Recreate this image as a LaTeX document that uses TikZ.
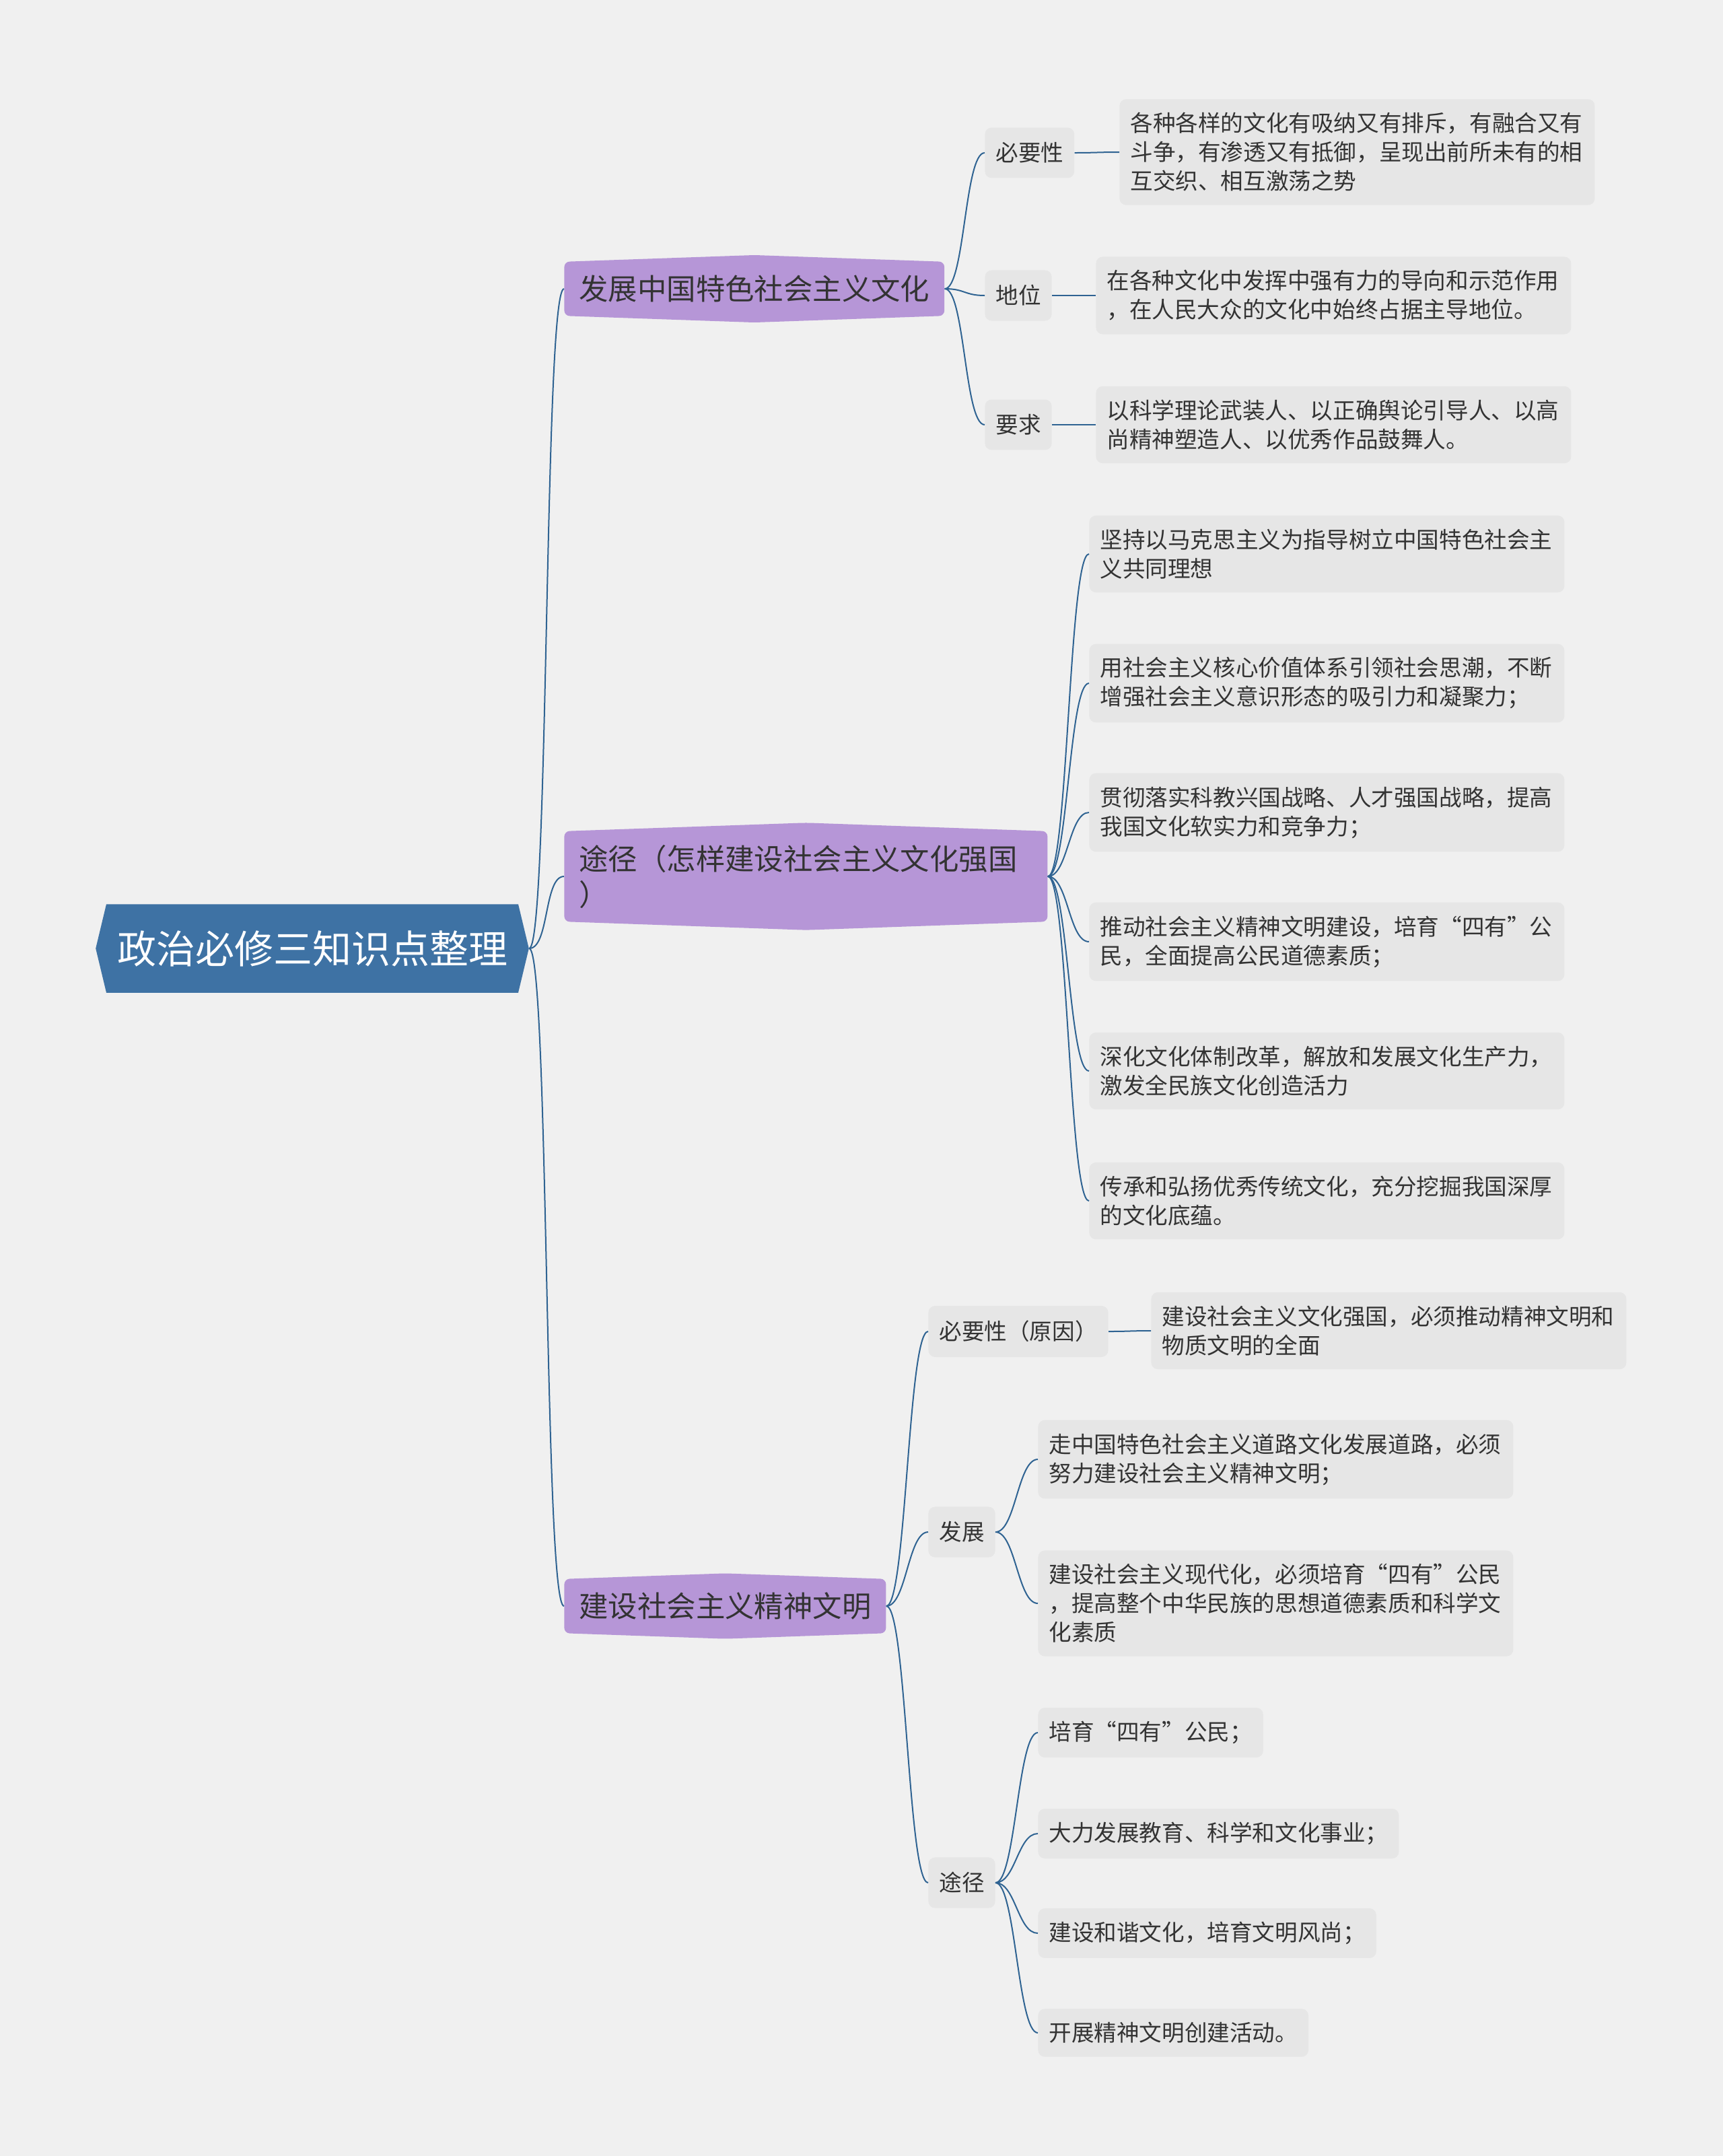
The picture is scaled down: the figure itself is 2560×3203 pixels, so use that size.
\documentclass[tikz,border=0pt]{standalone}
\usepackage{fontspec}
\setmainfont{Noto Sans CJK SC}
\usetikzlibrary{shapes.symbols}

\definecolor{pagebg}{HTML}{F0F0F0}
\definecolor{leafbg}{HTML}{E6E6E6}
\definecolor{rootblue}{HTML}{3E72A4}
\definecolor{branchpurple}{HTML}{B696D7}
\definecolor{linkblue}{HTML}{2F6392}
\definecolor{inktext}{HTML}{333333}

\tikzset{
  link/.style={draw=linkblue, line width=1pt},
  rootnode/.style={signal, signal to=west and east, signal pointer angle=153,
    fill=rootblue, text=white, font=\fontsize{29pt}{35pt}\selectfont,
    inner xsep=8pt, inner ysep=19.5pt},
  branch/.style={signal, signal to=north and south, signal pointer angle=176,
    rounded corners=4pt, fill=branchpurple, text=inktext, anchor=west, align=left,
    font=\fontsize{21.7pt}{26.5pt}\selectfont, inner xsep=11pt, inner ysep=10pt},
  subnode/.style={fill=leafbg, rounded corners=5pt, text=inktext, anchor=west,
    font=\fontsize{16.8pt}{21.5pt}\selectfont, inner xsep=8pt, inner ysep=11pt},
  leaf/.style={subnode, align=left, inner ysep=10pt},
  wide/.style={text width=337pt}
}

\begin{document}
\begin{tikzpicture}[x=0.5pt, y=-0.5pt]
  \fill[pagebg] (0,0) rectangle (2560,3203);

  % root and main branches
  \node[rootnode] (root) at (464,1409) {政治必修三知识点整理};
  \node[branch] (b1) at (838,429) {发展中国特色社会主义文化};
  \node[branch, text width=337pt] (b2) at (838,1302) {途径（怎样建设社会主义文化强国\\）};
  \node[branch] (b3) at (838,2386) {建设社会主义精神文明};

  % branch 1
  \node[subnode] (s1) at (1463,227) {必要性};
  \node[subnode] (s2) at (1463,439) {地位};
  \node[subnode] (s3) at (1463,631) {要求};
  \node[leaf, wide] (l1) at (1663,226) {各种各样的文化有吸纳又有排斥，有融合又有\\斗争，有渗透又有抵御，呈现出前所未有的相\\互交织、相互激荡之势};
  \node[leaf, wide] (l2) at (1628,439) {在各种文化中发挥中强有力的导向和示范作用\\，在人民大众的文化中始终占据主导地位。};
  \node[leaf, wide] (l3) at (1628,631) {以科学理论武装人、以正确舆论引导人、以高\\尚精神塑造人、以优秀作品鼓舞人。};

  % branch 2
  \node[leaf, wide] (m1) at (1618,823) {坚持以马克思主义为指导树立中国特色社会主\\义共同理想};
  \node[leaf, wide] (m2) at (1618,1015) {用社会主义核心价值体系引领社会思潮，不断\\增强社会主义意识形态的吸引力和凝聚力；};
  \node[leaf, wide] (m3) at (1618,1207) {贯彻落实科教兴国战略、人才强国战略，提高\\我国文化软实力和竞争力；};
  \node[leaf, wide] (m4) at (1618,1399) {推动社会主义精神文明建设，培育“四有”公\\民，全面提高公民道德素质；};
  \node[leaf, wide] (m5) at (1618,1591) {深化文化体制改革，解放和发展文化生产力，\\激发全民族文化创造活力};
  \node[leaf, wide] (m6) at (1618,1784) {传承和弘扬优秀传统文化，充分挖掘我国深厚\\的文化底蕴。};

  % branch 3
  \node[subnode] (s4) at (1379,1978) {必要性（原因）};
  \node[subnode] (s5) at (1379,2276) {发展};
  \node[subnode] (s6) at (1379,2797) {途径};
  \node[leaf, wide] (n1) at (1710,1977) {建设社会主义文化强国，必须推动精神文明和\\物质文明的全面};
  \node[leaf, wide] (n2) at (1542,2168) {走中国特色社会主义道路文化发展道路，必须\\努力建设社会主义精神文明；};
  \node[leaf, wide] (n3) at (1542,2382) {建设社会主义现代化，必须培育“四有”公民\\，提高整个中华民族的思想道德素质和科学文\\化素质};
  \node[leaf] (p1) at (1542,2574) {培育“四有”公民；};
  \node[leaf] (p2) at (1542,2724) {大力发展教育、科学和文化事业；};
  \node[leaf] (p3) at (1542,2872) {建设和谐文化，培育文明风尚；};
  \node[leaf] (p4) at (1542,3020) {开展精神文明创建活动。};

  % connectors
  \foreach \a/\b in {root/b1, root/b2, root/b3,
      b1/s1, b1/s2, b1/s3, s1/l1, s2/l2, s3/l3,
      b2/m1, b2/m2, b2/m3, b2/m4, b2/m5, b2/m6,
      b3/s4, b3/s5, b3/s6, s4/n1, s5/n2, s5/n3,
      s6/p1, s6/p2, s6/p3, s6/p4}
    \draw[link] (\a.east) .. controls +(30,0) and +(-30,0) .. (\b.west);
\end{tikzpicture}
\end{document}
